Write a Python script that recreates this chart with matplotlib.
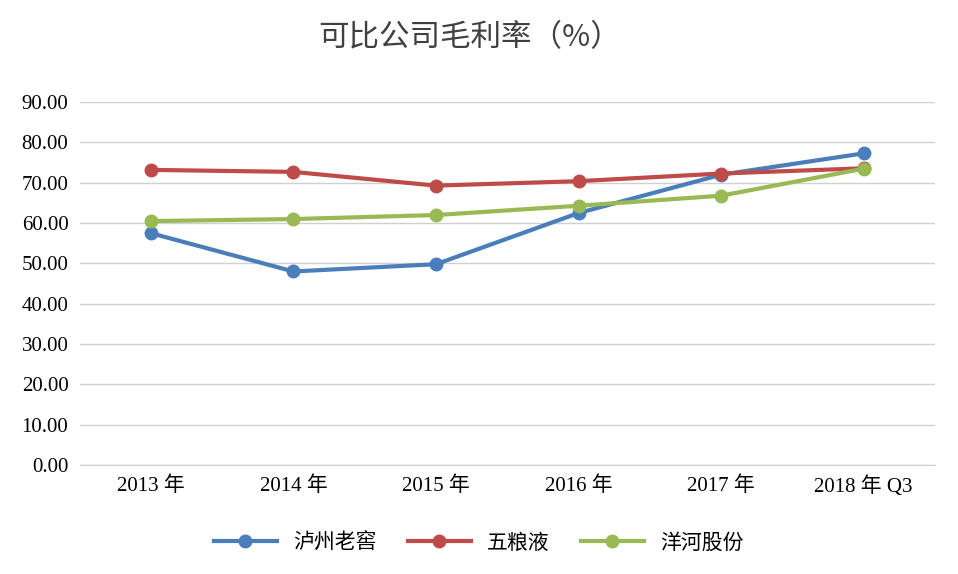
import matplotlib.pyplot as plt
import numpy as np

plt.rcParams['font.family'] = ['Liberation Serif', 'Noto Sans CJK SC']

years = ['2013 年', '2014 年', '2015 年', '2016 年', '2017 年', '2018 年 Q3']
luzhou = [57.5, 48.0, 49.8, 62.5, 72.0, 77.3]
wuliangye = [73.2, 72.7, 69.3, 70.4, 72.3, 73.6]
yanghe = [60.5, 61.0, 62.0, 64.3, 66.8, 73.5]

fig = plt.figure(figsize=(9.58, 5.74), dpi=100)
ax = fig.add_axes([0.083, 0.19, 0.893, 0.632])
x = np.arange(len(years))

for vals, c, name in [(luzhou, '#4a7ebb', '泸州老窖'),
                      (wuliangye, '#be4b48', '五粮液'),
                      (yanghe, '#98b954', '洋河股份')]:
    ax.plot(x, vals, color=c, lw=3, marker='o', ms=9, label=name, clip_on=False, zorder=3)

ax.set_xlim(-0.5, len(years) - 0.5)
ax.set_ylim(0, 90)
ax.set_yticks(np.arange(0, 91, 10))
ax.set_yticklabels([f'{v:.2f}' for v in np.arange(0, 91, 10)], fontsize=15)
ax.set_xticks(x)
ax.set_xticklabels(years, fontsize=15)
ax.grid(axis='y', color='#d0d0d0', lw=1)
ax.tick_params(length=0, pad=8)
for s in ['top', 'right', 'left']:
    ax.spines[s].set_visible(False)
ax.spines['bottom'].set_color('#d0d0d0')

fig.text(0.49, 0.935, '可比公司毛利率（%）', ha='center', va='center', fontsize=22,
         family=['Noto Sans CJK SC'], color='#404040')
fig.legend(loc='center', bbox_to_anchor=(0.5, 0.055), ncol=3, frameon=False,
           prop={'family': 'Noto Sans CJK SC', 'size': 15}, handlelength=3, columnspacing=1.5)

fig.savefig('out.png', dpi=100, facecolor='white')
